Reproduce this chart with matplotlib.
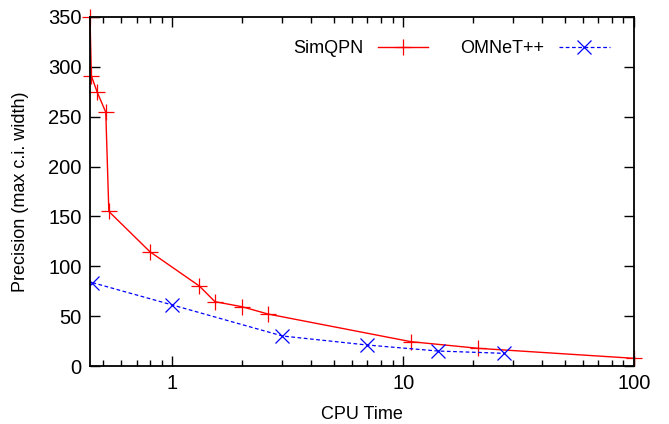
import matplotlib
matplotlib.use('Agg')
import matplotlib.pyplot as plt
from matplotlib.ticker import FixedLocator, LogLocator, NullFormatter, FixedFormatter

plt.rcParams['font.family'] = ['Liberation Sans', 'DejaVu Sans']

# SimQPN: CPU time vs. max c.i. width
simqpn_time = [0.44, 0.446, 0.472, 0.515, 0.531, 0.80, 1.31, 1.53, 2.0, 2.6, 10.8, 21.2, 100]
simqpn_prec = [350, 291, 275, 254.5, 155, 114.6, 80.2, 64.5, 59.5, 52.1, 24.4, 17.7, 7.7]

# OMNeT++
omnet_time = [0.451, 1.0, 3.0, 6.95, 14.2, 27.4]
omnet_prec = [83.6, 61.2, 30.1, 21.1, 15.0, 12.7]

x_ticks = [1, 10, 100]
x_labels = ['1', '10', '100']
y_ticks = [0, 50, 100, 150, 200, 250, 300, 350]

fig = plt.figure(figsize=(6.69, 4.24), dpi=100)
ax = fig.add_axes([90 / 669, 1 - 366 / 424, 544 / 669, 349 / 424])

ax.plot(simqpn_time, simqpn_prec, color='#ff0000', lw=1.0, marker='+',
        markersize=11, markeredgewidth=0.9, label='SimQPN', clip_on=False)
ax.plot(omnet_time, omnet_prec, color='#0000ff', lw=0.9, ls=(0, (3, 2)), marker='x',
        markersize=10, markeredgewidth=0.9, label='OMNeT++')

ax.set_xscale('log')
ax.set_xlim(0.44, 100)
ax.set_ylim(0, 350)
ax.xaxis.set_major_locator(FixedLocator(x_ticks))
ax.xaxis.set_major_formatter(FixedFormatter(x_labels))
ax.xaxis.set_minor_locator(LogLocator(base=10, subs=range(2, 10)))
ax.xaxis.set_minor_formatter(NullFormatter())
ax.set_yticks(y_ticks)

ax.tick_params(which='both', direction='in', top=True, right=True, labelsize=14.5, width=1.0)
ax.tick_params(which='major', length=7, pad=6)
ax.tick_params(which='minor', length=4)
for s in ax.spines.values():
    s.set_linewidth(1.3)

ax.set_xlabel('CPU Time', fontsize=13, labelpad=9)
ax.set_ylabel('Precision (max c.i. width)', fontsize=13, labelpad=14)

ax.legend(loc='upper right', ncol=2, frameon=False, markerfirst=False, fontsize=13,
          handlelength=2.8, columnspacing=1.8, bbox_to_anchor=(0.985, 0.98))

fig.savefig('out.png', dpi=100)
